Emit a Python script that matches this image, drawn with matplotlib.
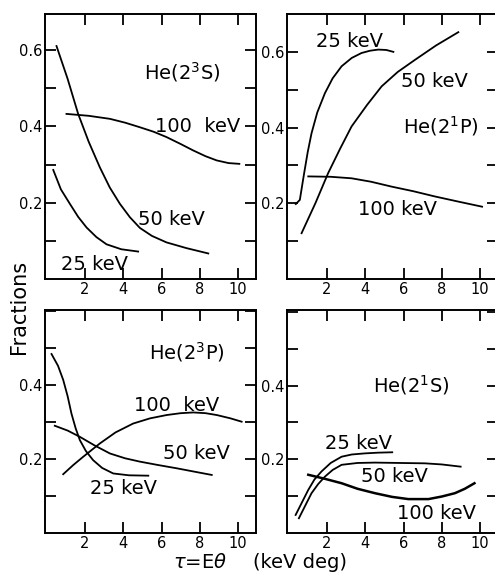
import numpy as np
import matplotlib
matplotlib.use("Agg")
from matplotlib import pyplot as plt

# He(2^3S)
s3_25_x = [0.35, 0.75, 1.22, 1.65, 2.09, 2.6, 3.13, 3.9, 4.78]
s3_25_y = [0.286, 0.235, 0.197, 0.163, 0.135, 0.11, 0.091, 0.078, 0.072]
s3_50_x = [0.52, 1.1, 1.65, 2.2, 2.78, 3.3, 3.83, 4.35, 4.87, 5.5, 6.26, 7.3, 8.44]
s3_50_y = [0.611, 0.525, 0.433, 0.36, 0.293, 0.24, 0.197, 0.162, 0.134, 0.113, 0.096, 0.081, 0.067]
s3_100_x = [1.04, 2.2, 3.31, 4.1, 4.87, 5.6, 6.27, 7.0, 7.66, 8.3, 8.88, 9.5, 10.06]
s3_100_y = [0.433, 0.428, 0.42, 0.41, 0.398, 0.386, 0.372, 0.354, 0.337, 0.322, 0.311, 0.304, 0.302]

# He(2^1P)
p1_25_x = [0.38, 0.59, 0.8, 1.0, 1.2, 1.5, 1.9, 2.3, 2.77, 3.3, 3.81, 4.25, 4.68, 5.1, 5.47]
p1_25_y = [0.198, 0.209, 0.275, 0.335, 0.385, 0.44, 0.491, 0.53, 0.562, 0.584, 0.597, 0.603, 0.606, 0.605, 0.6]
p1_50_x = [0.68, 1.4, 2.07, 2.7, 3.29, 4.1, 4.86, 5.7, 6.6, 7.7, 8.86]
p1_50_y = [0.121, 0.2, 0.28, 0.345, 0.403, 0.46, 0.509, 0.547, 0.579, 0.617, 0.652]
p1_100_x = [1.03, 2.2, 3.29, 4.3, 5.38, 6.5, 7.64, 8.9, 10.1]
p1_100_y = [0.271, 0.27, 0.266, 0.257, 0.244, 0.232, 0.218, 0.204, 0.191]

# He(2^3P)
p3_25_x = [0.26, 0.6, 0.87, 1.1, 1.3, 1.52, 1.74, 2.05, 2.43, 2.9, 3.48, 4.3, 5.31]
p3_25_y = [0.484, 0.452, 0.414, 0.37, 0.323, 0.283, 0.251, 0.222, 0.197, 0.176, 0.161, 0.156, 0.155]
p3_50_x = [0.43, 1.1, 1.74, 2.5, 3.31, 4.1, 4.87, 5.8, 6.79, 7.7, 8.62]
p3_50_y = [0.29, 0.277, 0.26, 0.237, 0.215, 0.202, 0.193, 0.184, 0.175, 0.166, 0.157]
p3_100_x = [0.87, 1.4, 1.91, 2.78, 3.6, 4.52, 5.4, 6.27, 7.0, 7.66, 8.3, 8.88, 9.6, 10.18]
p3_100_y = [0.159, 0.184, 0.206, 0.242, 0.272, 0.296, 0.31, 0.319, 0.324, 0.326, 0.324, 0.319, 0.31, 0.301]

# He(2^1S)
s1_25_x = [0.37, 0.7, 1.03, 1.35, 1.72, 2.2, 2.77, 3.3, 3.98, 4.7, 5.41]
s1_25_y = [0.049, 0.083, 0.117, 0.145, 0.167, 0.19, 0.207, 0.213, 0.216, 0.218, 0.219]
s1_50_x = [0.54, 0.85, 1.2, 1.55, 1.9, 2.3, 2.77, 3.6, 4.51, 5.8, 7.12, 8.0, 8.98]
s1_50_y = [0.04, 0.072, 0.108, 0.133, 0.153, 0.171, 0.185, 0.19, 0.191, 0.19, 0.189, 0.186, 0.18]
s1_100_x = [1.03, 1.9, 2.77, 3.6, 4.51, 5.4, 6.25, 7.3, 8.0, 8.68, 9.2, 9.7]
s1_100_y = [0.158, 0.147, 0.135, 0.12, 0.108, 0.098, 0.092, 0.092, 0.099, 0.108, 0.12, 0.135]

W, H = 495, 574
fig = plt.figure(figsize=(W / 100, H / 100), dpi=100)
plt.rcParams['font.family'] = ['DejaVu Sans']


def box(px_left, px_top, px_bottom, ylim):
    ax = fig.add_axes([px_left / W, 1 - px_bottom / H, 211 / W, (px_bottom - px_top) / H])
    ax.set_xlim(-0.08, 10.93)
    ax.set_ylim(*ylim)
    ax.set_xticks([2, 4, 6, 8, 10])
    ax.set_xticklabels(['2', '4', '6', '8', '10'])
    yt = [0.1, 0.2, 0.3, 0.4, 0.5, 0.6]
    ax.set_yticks(yt)
    ax.set_yticklabels(['', '0.2', '', '0.4', '', '0.6'] if ylim[1] > 0.65 else ['', '0.2', '', '0.4', '', ''])
    ax.tick_params(direction='in', length=8, width=1.3, top=True, right=True,
                   labelsize=10.5, pad=2)
    for sp in ax.spines.values():
        sp.set_linewidth(1.4)
    return ax


kw = dict(color='black', lw=1.3)
tk = dict(fontsize=14, ha='center', va='center')

ax = box(45, 14, 279, (0, 0.695))
ax.plot(s3_25_x, s3_25_y, **kw)
ax.plot(s3_50_x, s3_50_y, **kw)
ax.plot(s3_100_x, s3_100_y, **kw)
ax.text(7.06, 0.542, r'He(2$^{3}$S)', **tk)
ax.text(7.9, 0.40, '100  keV', **tk)
ax.text(6.5, 0.157, '50 keV', **tk)
ax.text(2.5, 0.039, '25 keV', **tk)

ax = box(287, 14, 279, (0, 0.70))
ax.plot(p1_25_x, p1_25_y, **kw)
ax.plot(p1_50_x, p1_50_y, **kw)
ax.plot(p1_100_x, p1_100_y, **kw)
ax.text(3.2, 0.628, '25 keV', **tk)
ax.text(7.63, 0.522, '50 keV', **tk)
ax.text(7.94, 0.403, r'He(2$^{1}$P)', **tk)
ax.text(5.7, 0.183, '100 keV', **tk)

ax = box(45, 310, 533, (0, 0.603))
ax.plot(p3_25_x, p3_25_y, **kw)
ax.plot(p3_50_x, p3_50_y, **kw)
ax.plot(p3_100_x, p3_100_y, **kw)
ax.text(7.3, 0.49, r'He(2$^{3}$P)', **tk)
ax.text(6.79, 0.346, '100  keV', **tk)
ax.text(7.83, 0.215, '50 keV', **tk)
ax.text(4.0, 0.121, '25 keV', **tk)

ax = box(287, 310, 533, (0, 0.605))
ax.plot(s1_25_x, s1_25_y, **kw)
ax.plot(s1_50_x, s1_50_y, **kw)
ax.plot(s1_100_x, s1_100_y, color='black', lw=1.8)
ax.text(6.42, 0.402, r'He(2$^{1}$S)', **tk)
ax.text(3.64, 0.244, '25 keV', **tk)
ax.text(5.55, 0.153, '50 keV', **tk)
ax.text(7.73, 0.053, '100 keV', **tk)

fig.text(19 / W, 1 - 307 / H, 'Fractions', rotation=90, fontsize=15, ha='center', va='center')
fig.text(200 / W, 1 - 562 / H, r'$\tau$=E$\theta$', fontsize=14, ha='center', va='center')
fig.text(300 / W, 1 - 562 / H, '(keV deg)', fontsize=14, ha='center', va='center')

fig.savefig('out.png', dpi=100)
